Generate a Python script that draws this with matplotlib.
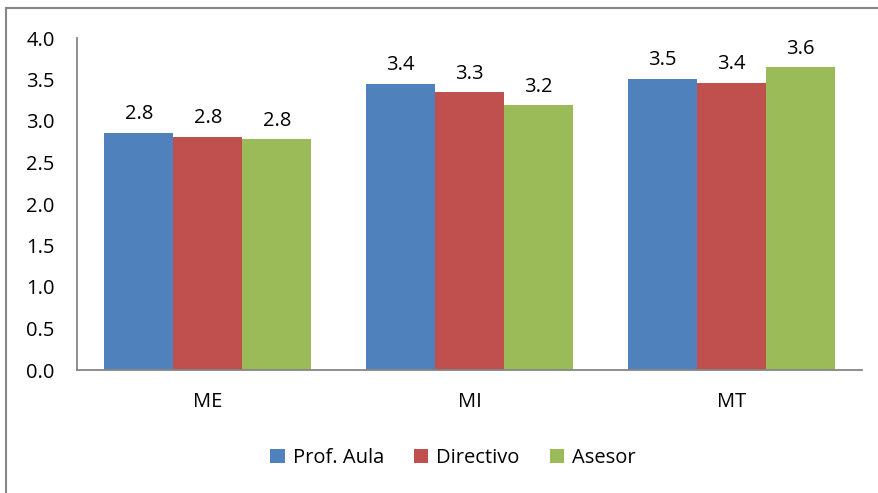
import matplotlib
matplotlib.use("Agg")
import matplotlib.pyplot as plt
import numpy as np
from matplotlib.lines import Line2D

plt.rcParams['font.family'] = ['Open Sans', 'DejaVu Sans']

categories = ["ME", "MI", "MT"]
series_names = ["Prof. Aula", "Directivo", "Asesor"]
prof_aula = [2.86, 3.45, 3.51]
directivo = [2.81, 3.35, 3.46]
asesor = [2.78, 3.19, 3.65]
# data labels as printed on the chart
prof_labels = ["2.8", "3.4", "3.5"]
dir_labels = ["2.8", "3.3", "3.4"]
ase_labels = ["2.8", "3.2", "3.6"]
y_ticks = [0.0, 0.5, 1.0, 1.5, 2.0, 2.5, 3.0, 3.5, 4.0]

colors = ["#4F81BD", "#C0504D", "#9BBB59"]
axis_grey = "#868686"
fs = 14.5

fig = plt.figure(figsize=(8.79, 4.93), dpi=100)
ax = fig.add_axes([77 / 879, 1 - 370 / 493, 785 / 879, 332 / 493])

x = np.arange(len(categories))
w = 0.264
all_vals = [prof_aula, directivo, asesor]
all_labels = [prof_labels, dir_labels, ase_labels]
for i, (vals, labs, name, c) in enumerate(zip(all_vals, all_labels, series_names, colors)):
    pos = x + (i - 1) * w
    bars = ax.bar(pos, vals, width=w, color=c, label=name, zorder=2)
    for b, lab in zip(bars, labs):
        ax.annotate(lab, (b.get_x() + b.get_width() / 2, b.get_height()),
                    xytext=(0, 6), textcoords="offset points",
                    ha="center", va="bottom", fontsize=fs)

ax.set_xlim(-0.5, 2.5)
ax.set_ylim(0, 4.0)
ax.set_yticks(y_ticks)
ax.set_yticklabels([f"{t:.1f}" for t in y_ticks])
ax.set_xticks(x)
ax.set_xticklabels(categories)
ax.tick_params(axis="both", length=0, labelsize=fs, colors="black")
ax.tick_params(axis="y", pad=16)
ax.tick_params(axis="x", pad=16)
for s in ["top", "right"]:
    ax.spines[s].set_visible(False)
for s in ["left", "bottom"]:
    ax.spines[s].set_color(axis_grey)
    ax.spines[s].set_linewidth(1.3)

leg = fig.legend(loc="center", bbox_to_anchor=(453 / 879, 1 - 458 / 493),
                 ncol=3, frameon=False, fontsize=fs, handlelength=0.7,
                 handleheight=0.7, handletextpad=0.4, columnspacing=1.5)

# outer chart frame (left and top edges visible in crop)
fig.add_artist(Line2D([6 / 879, 6 / 879], [0, 1 - 8 / 493], transform=fig.transFigure,
                      color=axis_grey, lw=1.5))
fig.add_artist(Line2D([6 / 879, 1], [1 - 8 / 493, 1 - 8 / 493], transform=fig.transFigure,
                      color=axis_grey, lw=1.5))

fig.savefig("out.png", dpi=100)
